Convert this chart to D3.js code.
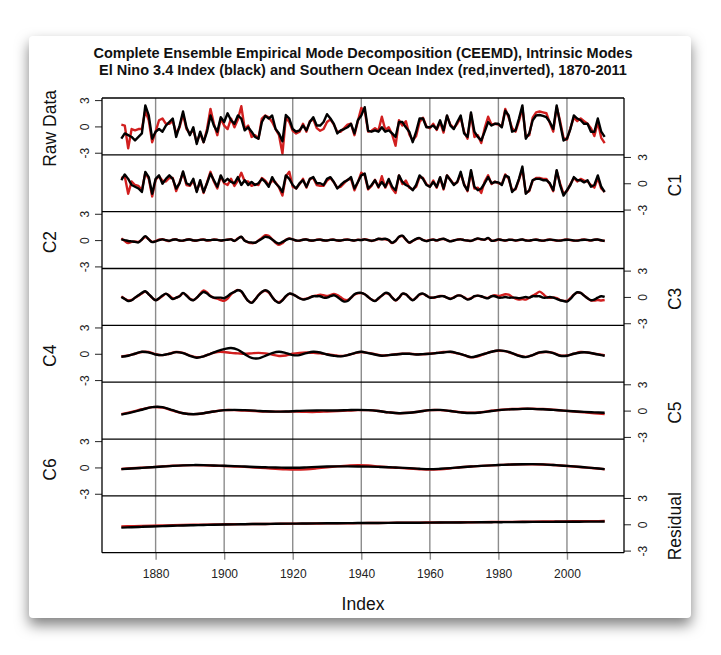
<!DOCTYPE html>
<html lang="en">
<head>
<meta charset="UTF-8" />
<title>CEEMD Intrinsic Modes</title>
<style>
body{margin:0;background:#fff;width:721px;height:655px;overflow:hidden;position:relative;}
.card{position:absolute;left:29px;top:36px;width:662px;height:582px;background:#fff;border-radius:4px;box-shadow:0 7px 14px rgba(0,0,0,0.5);}
#chart{position:absolute;left:0;top:0;font-family:"Liberation Sans",Arial,sans-serif;}
</style>
</head>
<body>
<div class="card"></div>
<svg id="chart" width="721" height="655"></svg>
<script src="https://cdn.jsdelivr.net/npm/d3@7/dist/d3.min.js"></script>
<script>
// x values: every year, every 2nd year (+2011), every 3rd year
const yearsAnnual = d3.range(1870, 2012);
const years2 = d3.range(1870, 2011, 2).concat([2011]);
const years3 = d3.range(1870, 2012, 3);

// Raw data, 1870-2011
const rawNino = [
 -1.4,-0.8,-1.0,-1.2,-1.6,-1.2,-0.8,2.4,1.25,-1.4,
 -0.6,-0.3,-0.6,0.1,0.5,0.9,-1.2,0.1,1.7,-0.1,
 -1.0,-0.1,-2.0,-0.6,-1.8,-0.6,1.25,0.1,-0.6,1.05,
 0.5,1.5,0.7,0.3,1.25,0.9,-0.45,-0.1,-0.6,-1.2,
 -1.4,0.5,1.2,0.9,1.25,-0.3,-0.8,-1.7,1.3,0.9,
 -0.3,-0.6,-0.45,0.1,-0.45,0.5,1.05,0.1,0.1,0.5,
 1.4,0.9,0.3,-0.8,-0.45,-0.3,-0.1,0.3,-0.8,0.7,
 1.25,2.2,-0.5,-0.6,-0.45,-0.6,-0.1,-0.6,-0.45,-0.8,
 -1.2,0.5,0.5,-0.1,-0.6,-1.8,-0.6,0.9,0.9,-0.1,
 -0.1,0.1,-0.3,0.7,-0.45,1.25,0.1,-0.3,0.5,1.25,
 -0.8,-1.2,1.6,-0.6,-1.2,-1.6,-0.6,0.5,0.1,0.3,
 0.3,-0.1,1.8,1.25,-0.6,-0.45,0.9,2.4,-1.4,-0.8,
 0.7,1.25,1.3,1.2,1.05,0.5,-0.3,2.4,0.3,-1.6,
 -1.4,-0.3,1.25,0.9,0.7,0.3,0.3,-0.6,-0.6,0.9,
 -0.6,-1.2];
const rawSoi = [
 0.2,0.1,-2.5,-0.3,-0.45,-0.3,-0.3,1.8,0.7,-1.8,
 -0.6,0.7,0.9,0.3,0.3,0.6,-0.8,-0.1,1.4,-0.3,
 -0.8,-0.45,-1.8,-0.8,-1.8,-0.3,2.0,0.3,-1.0,0.9,
 0.1,-0.3,0.9,-0.1,0.8,2.3,-0.3,0.1,-1.2,-1.0,
 -1.4,0.9,1.25,1.05,0.5,-0.3,-1.0,-3.1,1.0,0.5,
 -0.5,-0.8,-0.6,0.3,-0.6,0.6,0.8,-0.2,-0.5,-0.3,
 0.5,0.8,0.2,-0.6,-0.6,-0.2,0.2,0.3,-1.0,0.6,
 2.1,1.8,-0.6,-0.5,-0.2,-0.5,1.1,-0.4,-0.1,-0.9,
 -2.2,0.7,0.1,0.6,-0.9,-1.6,-1.1,0.5,1.0,0.0,
 -0.2,0.3,-0.4,0.5,-0.7,1.2,0.2,-0.2,0.3,1.0,
 -0.6,-1.4,1.4,-1.2,-1.0,-1.9,-0.2,1.1,0.2,0.3,
 0.2,0.0,2.0,1.0,-0.2,-0.6,0.6,2.1,-1.2,-1.0,
 1.0,1.6,1.7,1.6,1.5,0.4,-0.6,2.2,0.6,-1.3,
 -1.5,-0.2,1.0,0.6,0.9,0.6,0.3,-0.2,-1.1,0.5,
 -1.3,-1.9];

// C1, 1870-2011
const c1Nino = [
 0.35,1.0,0.5,-0.2,-0.4,-0.6,-1.0,1.3,0.7,-1.2,
 0.5,0.9,-0.05,0.5,0.9,0.5,-0.6,0,1.35,0,
 -0.2,0.5,-1.0,0.35,-1.0,0,1.1,0.35,-0.4,0.9,
 0.15,0.5,0.15,0,0.7,-0.2,0.35,-0.2,0.15,-0.2,
 0,0.5,0.15,-0.4,0.7,0,-0.4,-1.0,0.9,0.5,
 -0.2,-0.6,0,0.35,-0.4,0.5,0.7,0,0,-0.2,
 0.5,0.7,0.15,-0.6,-0.2,0.15,0.35,0.7,-0.6,0.15,
 0.9,1.1,-0.6,-0.2,0.35,-0.4,0.15,-0.4,0.5,-0.4,
 -0.8,0.9,0.15,-0.2,-0.4,-0.8,-0.2,0.9,0.5,-0.2,
 -0.4,0.15,-0.4,0.7,-0.6,0.9,0.35,-0.2,0.15,1.3,
 -0.2,-0.8,1.5,-0.4,-0.8,-0.6,0,0.7,0,0.15,
 0.1,-0.2,0.9,0.7,-1.0,-0.6,0.5,1.9,-1.2,-0.8,
 0.35,0.5,0.5,0.35,0.35,0,-0.8,1.5,-0.2,-1.4,
 -0.8,-0.2,0.7,0.35,0.35,0.1,0.35,-0.4,-0.2,0.9,
 -0.4,-1.0];
const c1Soi = [
 0.6,0.8,-1.2,0.2,-0.2,-0.3,-0.8,1.2,0.5,-1.5,
 0.4,0.8,0.3,0.2,0.6,0.6,-0.9,0.1,1.2,-0.2,
 -0.3,0.3,-0.9,0.2,-1.1,0.1,1.3,0.2,-0.6,0.8,
 0.0,-0.2,0.5,-0.3,0.3,1.2,0.2,0.2,-0.3,-0.1,
 -0.2,0.6,0.3,-0.2,0.3,0.1,-0.5,-1.4,0.8,1.3,
 -0.4,-0.6,-0.1,0.5,-0.5,0.5,0.6,-0.2,-0.3,-0.3,
 0.3,0.6,0.1,-0.5,-0.4,0.0,0.4,0.5,-0.8,0.1,
 1.2,0.9,-0.7,-0.3,0.4,-0.5,0.8,-0.5,0.3,-0.6,
 -1.1,0.9,-0.1,0.3,-0.5,-0.7,-0.4,0.7,0.6,-0.1,
 -0.4,0.3,-0.5,0.6,-0.7,0.9,0.4,-0.1,0.1,1.1,
 -0.1,-0.9,1.3,-0.6,-0.5,-1.1,0.2,0.9,-0.1,0.2,
 0.0,-0.1,1.0,0.5,-0.8,-0.7,0.4,1.6,-1.1,-0.9,
 0.3,0.6,0.6,0.5,0.5,-0.1,-0.9,1.4,0.0,-1.2,
 -0.9,-0.1,0.6,0.2,0.5,0.3,0.2,-0.2,-0.5,0.6,
 -0.6,-1.0];

// C2, 1870-2011
const c2Nino = [
 0.08,0,-0.1,-0.15,-0.2,-0.27,0.08,0.45,0.08,-0.23,
 -0.15,0,0.08,0,-0.08,0.04,0.06,-0.04,-0.06,0.04,
 0.06,-0.03,-0.05,0.03,0.05,-0.02,0,0.04,0.02,-0.04,
 0,0.04,0.08,-0.08,0.15,0.38,-0.08,-0.23,-0.27,-0.3,
 -0.08,0.15,0.38,0.3,0.08,-0.23,-0.38,-0.2,0,0.15,
 0.08,-0.04,-0.06,0.04,0.06,-0.03,-0.05,0.03,0.05,-0.02,
 -0.04,0.03,0.04,-0.03,-0.05,0.02,0.05,0,-0.04,0.02,
 0,0.08,0,-0.08,0,0.15,0.1,0.15,0,-0.3,
 -0.08,0.38,0.5,0.08,-0.27,-0.08,0.15,0.23,0,-0.12,
 0,0.05,-0.03,0.08,0.15,0,-0.15,-0.05,0.05,0.08,
 0,-0.05,-0.08,0.05,0.2,0.1,0.05,0.25,-0.08,-0.04,
 0.08,0,-0.04,0.04,0.02,-0.04,0.02,0.06,-0.04,-0.06,
 0.02,0.04,-0.02,-0.06,0,0.05,0.02,-0.04,-0.06,0,
 0.04,0.02,-0.04,-0.06,0,0.04,0.02,-0.03,0.04,0.06,
 -0.02,-0.1];
const c2Soi = [
 0.2,-0.1,-0.35,-0.2,-0.15,-0.2,0.05,0.35,0.1,-0.2,
 -0.12,0.05,0.1,-0.02,-0.1,0.06,0.08,-0.06,-0.08,0.06,
 0.08,-0.05,-0.06,0.05,0.06,-0.04,-0.02,0.06,0.03,-0.05,
 0,0.06,0.1,-0.1,0.2,0.35,-0.05,-0.25,-0.35,-0.3,
 -0.05,0.25,0.55,0.5,0.1,-0.3,-0.55,-0.35,0.05,0.2,
 0.08,-0.06,-0.08,0.06,0.08,-0.05,-0.06,0.05,0.06,-0.04,
 -0.05,0.05,0.06,-0.05,-0.06,0.04,0.06,0,-0.05,0.04,
 0.02,0.1,0.02,-0.1,0,0.12,0.12,0.1,-0.02,-0.35,
 -0.1,0.35,0.45,0.05,-0.3,-0.1,0.12,0.2,0.02,-0.1,
 0.02,0.06,-0.05,0.1,0.12,-0.02,-0.12,-0.04,0.06,0.1,
 0,-0.06,-0.1,0.06,0.15,0.08,0.06,0.2,-0.06,-0.06,
 0.06,0.02,-0.06,0.02,0.04,-0.06,0,0.08,-0.02,-0.08,
 0,0.06,-0.02,-0.08,0.02,0.06,0,-0.06,-0.04,0.02,
 0.06,0,-0.06,-0.04,0.02,0.06,0,-0.05,0.05,0.05,
 -0.04,-0.08];

// C3, 1870-2011
const c3Nino = [
 0,-0.23,-0.46,-0.38,-0.08,0.19,0.46,0.65,0.3,-0.08,
 -0.38,-0.15,0.15,0.38,0.08,-0.23,-0.08,0.08,0.46,0.15,
 -0.23,-0.38,-0.08,0.3,0.57,0.38,0.08,-0.08,-0.08,-0.08,
 -0.15,0.08,0.38,0.57,0.76,0.65,0.08,-0.46,-0.68,-0.3,
 0.19,0.57,0.76,0.57,0,-0.46,-0.68,-0.38,0.08,0.38,
 0.3,0.08,-0.15,-0.3,-0.23,-0.08,0.08,0.08,0.08,-0.08,
 -0.08,0.08,0.19,0,-0.3,-0.53,-0.46,-0.08,0.3,0.46,
 0.46,0.3,0,-0.3,-0.46,-0.15,0.15,0.46,0.38,-0.08,
 -0.38,-0.08,0.38,0.3,-0.08,-0.38,-0.08,0.3,0.38,0.15,
 -0.08,-0.08,0,0.08,0.08,-0.08,-0.23,-0.08,0.15,0.15,
 -0.08,-0.3,-0.19,0.08,0.15,0.08,-0.08,-0.15,0.08,0.08,
 -0.08,-0.08,0,-0.08,-0.08,-0.08,-0.15,-0.08,0,-0.08,
 0.08,0.08,0.08,-0.08,-0.08,0,-0.08,-0.23,-0.38,-0.46,
 -0.53,-0.23,0.23,0.53,0.46,0.15,-0.15,-0.38,-0.3,-0.08,
 0.08,0];
const c3Soi = [
 0.05,-0.2,-0.4,-0.35,-0.1,0.15,0.4,0.6,0.3,-0.1,
 -0.35,-0.2,0.1,0.35,0.15,-0.15,-0.1,0.1,0.4,0.2,
 -0.2,-0.35,-0.1,0.35,0.75,0.5,0.1,-0.1,-0.2,-0.35,
 -0.45,-0.2,0.3,0.6,0.8,0.6,0.05,-0.45,-0.65,-0.3,
 0.2,0.55,0.7,0.5,0,-0.45,-0.6,-0.35,0.05,0.35,
 0.3,0.1,-0.15,-0.25,-0.2,-0.05,0.1,0.15,0.25,0.2,
 0.1,0.2,0.35,0.2,-0.05,-0.3,-0.35,-0.1,0.25,0.4,
 0.45,0.3,0,-0.3,-0.45,-0.2,0.15,0.4,0.35,-0.05,
 -0.4,-0.1,0.35,0.3,-0.05,-0.35,-0.1,0.25,0.35,0.15,
 -0.05,-0.1,0,0.1,0.1,-0.1,-0.2,-0.05,0.15,0.15,
 -0.05,-0.25,-0.15,0.05,0.15,0.05,-0.05,-0.1,0.1,0.2,
 0.1,0.2,0.3,0.25,0,-0.2,-0.3,-0.25,-0.3,-0.1,
 0.15,0.35,0.6,0.35,0,-0.1,-0.05,-0.15,-0.35,-0.45,
 -0.45,-0.15,0.25,0.5,0.45,0.15,-0.15,-0.4,-0.4,-0.35,
 -0.4,-0.35];

// C4, every 2nd year + 2011
const c4Nino = [
 -0.34,-0.23,0,0.23,0.15,-0.08,-0.15,0,0.19,0.08,
 -0.23,-0.46,-0.3,0,0.3,0.53,0.65,0.46,-0.04,-0.46,
 -0.53,-0.23,0.08,0.23,0.08,-0.15,-0.15,0.08,0.23,0.15,
 -0.08,-0.23,-0.3,-0.15,0.08,0.23,0.08,-0.08,-0.23,-0.15,
 -0.08,0,0,-0.08,-0.04,0,0.08,0.15,0.23,0.08,
 -0.15,-0.38,-0.23,0,0.23,0.38,0.3,0.08,-0.23,-0.38,
 -0.15,0.15,0.23,0.08,-0.23,-0.23,0,0.15,0.15,0,
 -0.15,-0.23];
const c4Soi = [
 -0.3,-0.2,0,0.2,0.2,-0.05,-0.15,0,0.2,0.1,
 -0.2,-0.4,-0.3,0,0.2,0.2,0.1,0.05,0,0.05,
 0.1,0.05,-0.1,-0.25,-0.2,0,0.1,0.15,0.1,0.05,
 -0.05,-0.15,-0.25,-0.15,0.05,0.2,0.1,-0.05,-0.2,-0.15,
 -0.05,0,0,-0.05,-0.05,0,0.1,0.2,0.2,0.05,
 -0.15,-0.4,-0.3,0,0.25,0.35,0.3,0.05,-0.2,-0.35,
 -0.15,0.15,0.2,0.1,-0.2,-0.2,0,0.2,0.15,0,
 -0.1,-0.2];

// C5, C6, residual: every 3rd year
const c5Nino = [
 -0.46,-0.2,0.1,0.4,0.4,0.05,-0.3,-0.42,-0.3,-0.1,
 0.05,0.08,0.05,0,-0.08,-0.12,-0.1,-0.05,0,0.02,
 0.02,0.02,0.05,0.08,0.05,-0.05,-0.2,-0.3,-0.25,-0.1,
 0.05,0.08,-0.05,-0.2,-0.28,-0.2,-0.05,0.08,0.15,0.2,
 0.2,0.15,0.08,0,-0.08,-0.15,-0.2,-0.25];
const c5Soi = [
 -0.4,-0.15,0.15,0.4,0.35,0,-0.3,-0.4,-0.3,-0.1,
 0.05,0.05,0,-0.05,-0.1,-0.12,-0.12,-0.12,-0.15,-0.15,
 -0.1,-0.05,0,0.05,0.05,-0.05,-0.2,-0.3,-0.25,-0.1,
 0.05,0.05,-0.05,-0.18,-0.25,-0.18,-0.02,0.1,0.18,0.22,
 0.22,0.18,0.1,0,-0.1,-0.2,-0.3,-0.4];
const c6Nino = [
 -0.19,-0.12,-0.05,0.02,0.1,0.18,0.24,0.27,0.26,0.22,
 0.19,0.15,0.1,0.05,0.02,-0.01,-0.03,-0.03,0.01,0.06,
 0.1,0.12,0.12,0.11,0.09,0.06,0.02,-0.02,-0.08,-0.15,
 -0.19,-0.15,-0.08,0.02,0.1,0.18,0.24,0.29,0.34,0.37,
 0.38,0.35,0.28,0.2,0.12,0.02,-0.08,-0.19];
const c6Soi = [
 -0.17,-0.1,-0.03,0.04,0.12,0.19,0.24,0.26,0.24,0.2,
 0.16,0.11,0.06,0,-0.08,-0.15,-0.22,-0.25,-0.2,-0.1,
 0.02,0.12,0.2,0.26,0.22,0.12,0.02,-0.05,-0.12,-0.2,
 -0.25,-0.2,-0.1,0.02,0.1,0.18,0.24,0.29,0.33,0.36,
 0.37,0.34,0.28,0.2,0.11,0.01,-0.09,-0.2];
const resNino = [
 -0.38,-0.33,-0.29,-0.25,-0.21,-0.17,-0.14,-0.11,-0.08,-0.05,
 -0.03,-0.01,0.01,0.03,0.04,0.06,0.07,0.08,0.09,0.1,
 0.11,0.12,0.13,0.14,0.15,0.15,0.16,0.17,0.18,0.18,
 0.19,0.2,0.21,0.21,0.22,0.23,0.24,0.24,0.25,0.26,
 0.27,0.27,0.28,0.29,0.29,0.3,0.3,0.31];
const resSoi = [
 -0.25,-0.22,-0.19,-0.16,-0.13,-0.1,-0.08,-0.06,-0.04,-0.02,
 0,0.01,0.02,0.03,0.04,0.05,0.06,0.07,0.08,0.09,
 0.1,0.11,0.12,0.13,0.14,0.15,0.16,0.17,0.18,0.19,
 0.2,0.21,0.22,0.23,0.24,0.25,0.26,0.27,0.28,0.29,
 0.3,0.31,0.32,0.33,0.34,0.35,0.36,0.37];

const panelNames = ['Raw Data','C1','C2','C3','C4','C5','C6','Residual'];
const yTicks = [-3, 0, 3];
const xTicks = [1880, 1900, 1920, 1940, 1960, 1980, 2000];
const titleLines = [
  'Complete Ensemble Empirical Mode Decomposition (CEEMD), Intrinsic Modes',
  'El Nino 3.4 Index (black) and Southern Ocean Index (red,inverted), 1870-2011'
];

const panels = [
  {yrs: yearsAnnual, black: rawNino, red: rawSoi, curve: d3.curveLinear},
  {yrs: yearsAnnual, black: c1Nino, red: c1Soi, curve: d3.curveLinear},
  {yrs: yearsAnnual, black: c2Nino, red: c2Soi, curve: d3.curveCatmullRom},
  {yrs: yearsAnnual, black: c3Nino, red: c3Soi, curve: d3.curveCatmullRom},
  {yrs: years2, black: c4Nino, red: c4Soi, curve: d3.curveCatmullRom},
  {yrs: years3, black: c5Nino, red: c5Soi, curve: d3.curveCatmullRom},
  {yrs: years3, black: c6Nino, red: c6Soi, curve: d3.curveCatmullRom},
  {yrs: years3, black: resNino, red: resSoi, curve: d3.curveCatmullRom}
];

const svg = d3.select('#chart');
const box = {left: 102, right: 624, top: 98, bottom: 552.7};
const ph = (box.bottom - box.top) / panels.length;
const x = d3.scaleLinear().domain([1864.36, 2016.64]).range([box.left, box.right]);

// title
svg.append('g').selectAll('text').data(titleLines).join('text')
  .attr('x', 363).attr('y', (d, i) => 58 + i * 17)
  .attr('text-anchor', 'middle').attr('font-size', 14.5).attr('font-weight', 'bold')
  .attr('fill', '#111').text(d => d);

// vertical grid + bottom axis
svg.append('g').selectAll('line').data(xTicks).join('line')
  .attr('x1', d => x(d)).attr('x2', d => x(d))
  .attr('y1', box.top).attr('y2', box.bottom)
  .attr('stroke', '#8c8c8c').attr('stroke-width', 1.4);

const xa = svg.append('g').attr('transform', `translate(0,${box.bottom})`)
  .call(d3.axisBottom(x).tickValues(xTicks).tickFormat(d => String(d)).tickSize(7).tickSizeOuter(0));
xa.attr('font-size', null).attr('font-family', null);
xa.select('.domain').remove();
xa.selectAll('.tick line').attr('stroke', '#8c8c8c').attr('stroke-width', 1.4);
xa.selectAll('.tick text').attr('y', 17).attr('font-size', 12).attr('fill', '#222');

panels.forEach((p, i) => {
  const top = box.top + i * ph, bot = top + ph, mid = (top + bot) / 2;
  const y = d3.scaleLinear().domain([-3.24, 3.24]).range([bot, top]);
  const pts = s => p.yrs.map((yr, k) => [yr, s[k]]);
  const line = d3.line().x(d => x(d[0])).y(d => y(d[1])).curve(p.curve);

  svg.append('path').attr('d', line(pts(p.red)))
    .attr('fill', 'none').attr('stroke', '#d11f1f').attr('stroke-width', 2.4)
    .attr('stroke-linejoin', 'round');
  svg.append('path').attr('d', line(pts(p.black)))
    .attr('fill', 'none').attr('stroke', '#000').attr('stroke-width', 2.4)
    .attr('stroke-linejoin', 'round');

  const left = i % 2 === 0;
  const ax = (left ? d3.axisLeft(y) : d3.axisRight(y))
    .tickValues(yTicks).tickFormat(d => String(d)).tickSize(7).tickSizeOuter(0);
  const g = svg.append('g').attr('transform', `translate(${left ? box.left : box.right},0)`).call(ax);
  g.attr('font-size', null).attr('font-family', null);
  g.select('.domain').remove();
  g.selectAll('.tick line').attr('stroke', '#222');
  g.selectAll('.tick text').attr('x', null).attr('dy', null)
    .attr('text-anchor', 'middle').attr('font-size', 12).attr('fill', '#222')
    .attr('transform', left ? 'translate(-13,0) rotate(-90)' : 'translate(23,0) rotate(-90)');

  const lx = left ? 56 : 681;
  svg.append('text').attr('transform', `translate(${lx},${mid + 2}) rotate(-90)`)
    .attr('text-anchor', 'middle').attr('font-size', 17.5).attr('fill', '#111')
    .text(panelNames[i]);
});

// panel frames
svg.append('g').selectAll('line').data(d3.range(panels.length + 1)).join('line')
  .attr('x1', box.left).attr('x2', box.right)
  .attr('y1', d => box.top + d * ph).attr('y2', d => box.top + d * ph)
  .attr('stroke', '#000').attr('stroke-width', 1.3);
svg.append('g').selectAll('line').data([box.left, box.right]).join('line')
  .attr('x1', d => d).attr('x2', d => d)
  .attr('y1', box.top).attr('y2', box.bottom)
  .attr('stroke', '#000').attr('stroke-width', 1.3);

svg.append('text').attr('x', 363).attr('y', 610).attr('text-anchor', 'middle')
  .attr('font-size', 17.5).attr('fill', '#111').text('Index');
</script>
</body>
</html>
